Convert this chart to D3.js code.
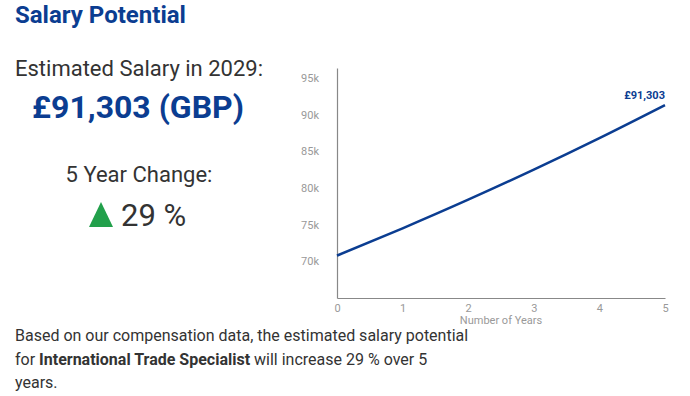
<!DOCTYPE html>
<html>
<head>
<meta charset="utf-8">
<script src="https://cdn.jsdelivr.net/npm/d3@7"></script>
<style>
  body { margin: 0; background: #fff; font-family: Roboto, "Open Sans", sans-serif; }
  svg text { font-family: Roboto, sans-serif; }
</style>
</head>
<body>
<svg id="chart" width="690" height="396"></svg>
<script>
// salary projection (GBP)
var years = [0, 1, 2, 3, 4, 5];
var salary = [70778, 74500, 78400, 82500, 86800, 91303];
var yTicks = [70000, 75000, 80000, 85000, 90000, 95000];
var blue = "#0b3d91";
var grey = "#333";

var svg = d3.select("#chart");

// header + summary text on the left
svg.append("text").attr("x", 15).attr("y", 23)
    .attr("font-size", 24).attr("font-weight", "bold").attr("fill", blue)
    .text("Salary Potential");
svg.append("text").attr("x", 15).attr("y", 76)
    .attr("font-size", 22).attr("fill", grey)
    .text("Estimated Salary in 2029:");
svg.append("text").attr("x", 138).attr("y", 118).attr("text-anchor", "middle")
    .attr("font-size", 32).attr("font-weight", "bold").attr("fill", blue)
    .text("£" + d3.format(",")(salary[salary.length - 1]) + " (GBP)");
svg.append("text").attr("x", 139).attr("y", 182).attr("text-anchor", "middle")
    .attr("font-size", 22).attr("fill", grey)
    .text("5 Year Change:");
svg.append("path").attr("d", "M89,227 L101,202 L113,227 Z").attr("fill", "#22a04b");
svg.append("text").attr("x", 121).attr("y", 226)
    .attr("font-size", 31).attr("fill", grey)
    .text("29 %");

// chart
var x = d3.scaleLinear().domain([0, 5]).range([337, 665]);
var y = d3.scaleLinear().domain([65000, 96360]).range([298, 68]);

var xAxis = svg.append("g").attr("transform", "translate(0,298)")
    .call(d3.axisBottom(x).tickValues(years).tickSize(0).tickPadding(6).tickFormat(d3.format("d")));
var yAxis = svg.append("g").attr("transform", "translate(337,0)")
    .call(d3.axisLeft(y).tickValues(yTicks).tickSize(0).tickPadding(18)
        .tickFormat(function(d){ return (d / 1000) + "k"; }));
[xAxis, yAxis].forEach(function(a){
    a.select(".domain").attr("stroke", "#888").attr("stroke-width", 1.2);
    a.selectAll("text").attr("fill", "#999").attr("font-size", 11).attr("font-family", "Roboto, sans-serif");
});

svg.append("text").attr("x", 501).attr("y", 324).attr("text-anchor", "middle")
    .attr("font-size", 11).attr("fill", "#999")
    .text("Number of Years");

var line = d3.line().x(function(d, i){ return x(years[i]); }).y(function(d){ return y(d); })
    .curve(d3.curveMonotoneX);
svg.append("path").datum(salary).attr("d", line)
    .attr("fill", "none").attr("stroke", blue).attr("stroke-width", 2.5);

svg.append("text").attr("x", x(5)).attr("y", y(salary[5]) - 6).attr("text-anchor", "end")
    .attr("font-size", 11).attr("font-weight", "bold").attr("fill", blue)
    .text("£" + d3.format(",")(salary[5]));

// footer paragraph
var para = [
    [["Based on our compensation data, the estimated salary potential", false]],
    [["for ", false], ["International Trade Specialist", true], [" will increase 29 % over 5", false]],
    [["years.", false]]
];
para.forEach(function(parts, i){
    var t = svg.append("text").attr("x", 15).attr("y", 341 + i * 23.5)
        .attr("font-size", 16).attr("fill", grey);
    parts.forEach(function(p){
        t.append("tspan").attr("font-weight", p[1] ? "bold" : "normal").text(p[0]);
    });
});
</script>
</body>
</html>
